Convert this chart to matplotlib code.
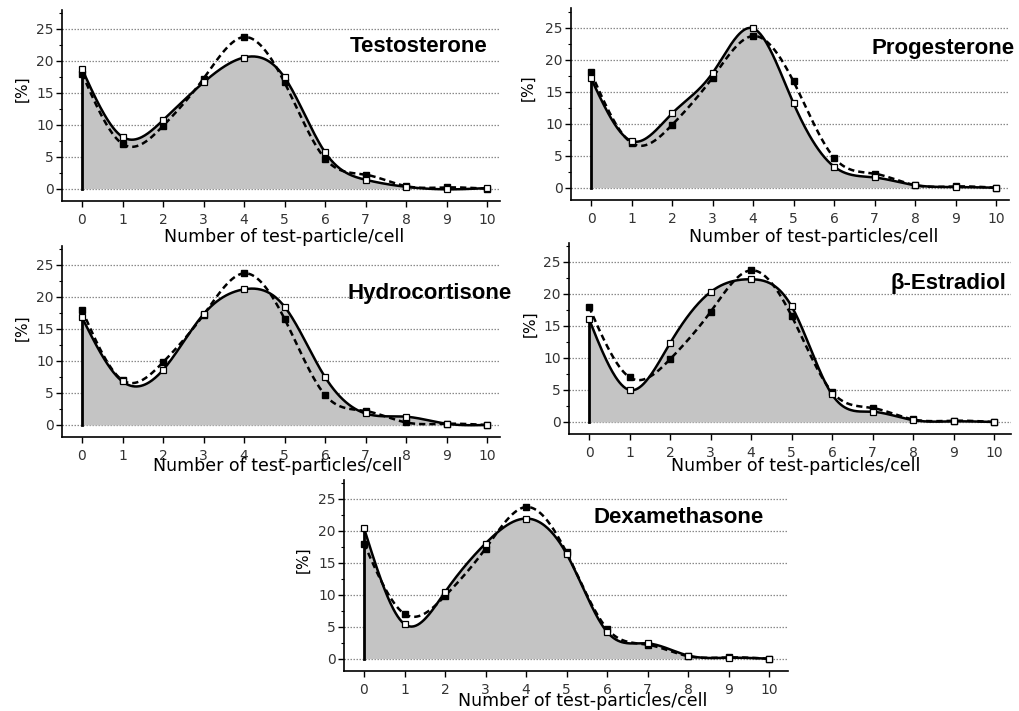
import numpy as np
import matplotlib
matplotlib.use("Agg")
import matplotlib.pyplot as plt

plt.rcParams['font.family'] = ['DejaVu Sans']

# particles per cell (x) and percentage of cells (y)
particles = [0, 1, 2, 3, 4, 5, 6, 7, 8, 9, 10]
control = [18.0, 7.0, 9.8, 17.2, 23.7, 16.6, 4.7, 2.2, 0.4, 0.2, 0.0]
testosterone = [18.7, 8.1, 10.7, 16.6, 20.5, 17.4, 5.7, 1.4, 0.3, -0.1, 0.1]
progesterone = [17.1, 7.3, 11.6, 17.9, 24.9, 13.2, 3.3, 1.6, 0.4, 0.1, 0.0]
hydrocortisone = [16.8, 6.8, 8.6, 17.3, 21.2, 18.5, 7.5, 1.8, 1.3, 0.2, 0.0]
estradiol = [16.1, 5.0, 12.3, 20.3, 22.3, 18.1, 4.3, 1.6, 0.3, 0.1, 0.0]
dexamethasone = [20.4, 5.4, 10.4, 18.0, 21.9, 16.4, 4.2, 2.4, 0.5, 0.15, 0.0]

titles = ['Testosterone', 'Progesterone', 'Hydrocortisone', '\u03b2-Estradiol', 'Dexamethasone']
xlabels = ['Number of test-particle/cell'] + ['Number of test-particles/cell'] * 4

W, H = 1019, 711
PX_X, PX_Y = 40.5, 6.4
YLIM = (-1.9, 28)
FILL = '#c4c4c4'


def natural_spline(x, y, n=400):
    x = np.asarray(x, float)
    y = np.asarray(y, float)
    h = np.diff(x)
    m = len(x)
    A = np.zeros((m, m))
    b = np.zeros(m)
    A[0, 0] = A[-1, -1] = 1
    for i in range(1, m - 1):
        A[i, i - 1] = h[i - 1]
        A[i, i] = 2 * (h[i - 1] + h[i])
        A[i, i + 1] = h[i]
        b[i] = 3 * ((y[i + 1] - y[i]) / h[i] - (y[i] - y[i - 1]) / h[i - 1])
    c = np.linalg.solve(A, b)
    bb = (y[1:] - y[:-1]) / h - h * (2 * c[:-1] + c[1:]) / 3
    d = (c[1:] - c[:-1]) / (3 * h)
    xs = np.linspace(x[0], x[-1], n)
    k = np.clip(np.searchsorted(x, xs, side='right') - 1, 0, m - 2)
    t = xs - x[k]
    ys = y[k] + bb[k] * t + c[k] * t ** 2 + d[k] * t ** 3
    return xs, ys


def make_axes(fig, x0, y0, xmax):
    # x0, y0: pixel position of data point (0, 0)
    left = x0 - 0.49 * PX_X
    width = (xmax + 0.49) * PX_X
    bottom = y0 - YLIM[0] * PX_Y
    height = (YLIM[1] - YLIM[0]) * PX_Y
    ax = fig.add_axes([left / W, 1 - bottom / H, width / W, height / H])
    ax.set_xlim(-0.49, xmax)
    ax.set_ylim(*YLIM)
    return ax


# layout per panel: origin px, x max, title (right x, y), xlabel baseline, ylabel centre
layout = [
    dict(origin=(82, 188.7), xmax=10.32, title=(10.02, 22.2), xlab=(284, 242), ylab=(22, 89)),
    dict(origin=(591, 187.7), xmax=10.32, title=(10.47, 21.7), xlab=(814, 242), ylab=(528, 88)),
    dict(origin=(82, 425), xmax=10.32, title=(10.6, 20.6), xlab=(278, 471), ylab=(22, 328)),
    dict(origin=(589, 422), xmax=10.42, title=(10.3, 21.7), xlab=(796, 471), ylab=(530, 324)),
    dict(origin=(364, 658.7), xmax=10.47, title=(9.88, 22.0), xlab=(583, 706), ylab=(303, 560)),
]
series = [testosterone, progesterone, hydrocortisone, estradiol, dexamethasone]

fig = plt.figure(figsize=(W / 100, H / 100), dpi=100)

for vals, title, xlab, lay in zip(series, titles, xlabels, layout):
    ax = make_axes(fig, lay['origin'][0], lay['origin'][1], lay['xmax'])

    for gy in [0, 5, 10, 15, 20, 25]:
        ax.axhline(gy, color='#8a8a8a', lw=0.9, ls=(0, (1.2, 1.2)), zorder=0)

    xs, ys = natural_spline(particles, vals)
    ax.fill_between(xs, 0, ys, color=FILL, lw=0, zorder=1)
    xc, yc = natural_spline(particles, control)
    ax.plot(xc, yc, color='black', lw=1.8, ls=(0, (2.5, 1.6)), zorder=3)
    ax.plot(xs, ys, color='black', lw=1.8, zorder=4)
    ax.plot([0, 0], [0, vals[0]], color='black', lw=2, zorder=4)
    ax.plot(particles, control, ls='none', marker='s', ms=5, mfc='black', mec='black', zorder=5)
    ax.plot(particles, vals, ls='none', marker='s', ms=5, mfc='white', mec='black', mew=0.9, zorder=6)

    for side in ['top', 'right']:
        ax.spines[side].set_visible(False)
    for side in ['left', 'bottom']:
        ax.spines[side].set_linewidth(1.2)
    ax.set_xticks(particles)
    ax.set_yticks([0, 5, 10, 15, 20, 25])
    ax.set_yticks(np.arange(2.5, 28, 5), minor=True)
    ax.tick_params(axis='both', which='major', direction='out', length=4, width=1,
                   labelsize=10, labelcolor='#333333')
    ax.tick_params(axis='x', which='major', pad=4.5)
    ax.tick_params(axis='y', which='major', pad=2)
    ax.tick_params(axis='y', which='minor', direction='out', length=2.5, width=0.8)
    ax.patch.set_visible(False)

    ax.text(lay['title'][0], lay['title'][1], title, ha='right', va='center',
            fontsize=16, fontweight='bold', family=['Liberation Sans', 'DejaVu Sans'],
            clip_on=False)
    fig.text(lay['xlab'][0] / W, 1 - lay['xlab'][1] / H, xlab, ha='center', va='baseline',
             fontsize=12.5)
    fig.text(lay['ylab'][0] / W, 1 - lay['ylab'][1] / H, '[%]', ha='center', va='center',
             rotation=90, fontsize=11)

fig.savefig('out.png', dpi=100)
